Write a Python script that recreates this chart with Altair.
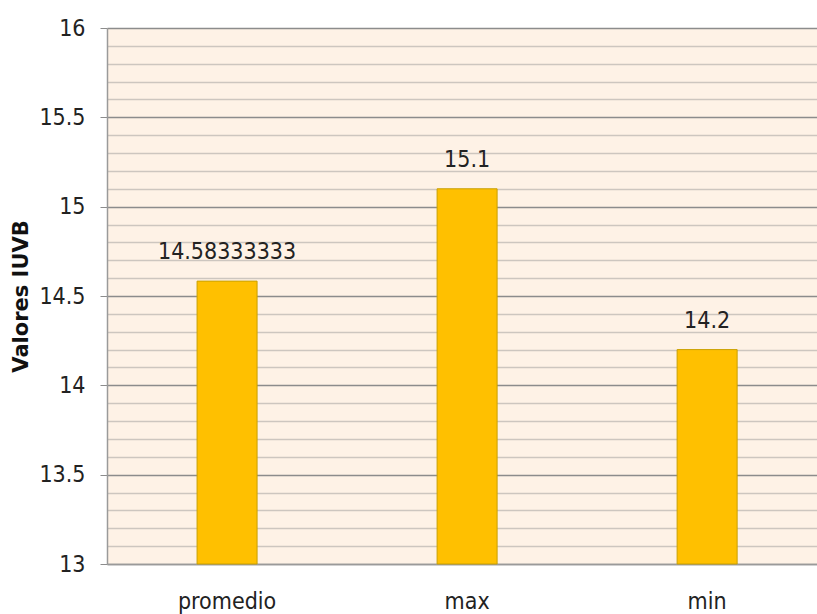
import altair as alt
import pandas as pd

# Índice UVB: promedio, máximo y mínimo
categorias = ["promedio", "max", "min"]
valores = [14.58333333, 15.1, 14.2]
etiquetas = ["14.58333333", "15.1", "14.2"]

# Ticks del eje Y: cada 0.1 (líneas menores), rótulos cada 0.5
ticks_y = [round(13 + i * 0.1, 1) for i in range(31)]

df = pd.DataFrame({"categoria": categorias, "valor": valores, "etiqueta": etiquetas})

es_mayor = "abs(datum.value * 2 - round(datum.value * 2)) < 0.001"
FUENTE = "'DejaVu Sans Condensed', 'Liberation Sans', sans-serif"
TAM = 23

x_enc = alt.X(
    "categoria:N",
    sort=categorias,
    scale=alt.Scale(paddingInner=0.75, paddingOuter=0.354, align=0.53),
    axis=alt.Axis(
        title=None,
        labelAngle=0,
        labelFont=FUENTE,
        labelFontSize=TAM,
        labelColor="#222222",
        labelPadding=26,
        ticks=False,
        domainColor="#9a9a9a",
        domainWidth=1.5,
        grid=False,
    ),
)

y_enc = alt.Y(
    "valor:Q",
    scale=alt.Scale(domain=[13, 16], nice=False, zero=False),
    axis=alt.Axis(
        title="Valores IUVB",
        titleFont="DejaVu Sans",
        titleFontWeight="bold",
        titleFontSize=21,
        titleColor="#111111",
        titlePadding=7,
        values=ticks_y,
        format="~g",
        labelExpr=f"{es_mayor} ? datum.label : ''",
        labelFont=FUENTE,
        labelFontSize=TAM,
        labelColor="#222222",
        labelPadding=15,
        labelOverlap=False,
        tickSize=7,
        tickColor={"condition": {"test": es_mayor, "value": "#8c8c8c"}, "value": "transparent"},
        domainColor="#9a9a9a",
        domainWidth=1.5,
        grid=True,
        gridColor={"condition": {"test": es_mayor, "value": "#8c8c8c"}, "value": "#cdc6bf"},
        gridWidth=1.5,
    ),
)

barras = alt.Chart(df).mark_bar(
    color="#FFC000", stroke="#C9A000", strokeWidth=1
).encode(x=x_enc, y=y_enc, y2=alt.datum(13))

textos = alt.Chart(df).mark_text(
    font=FUENTE, fontSize=TAM, color="#222222", baseline="alphabetic", dy=-22
).encode(x=x_enc, y=y_enc, text="etiqueta:N")

chart = (
    alt.layer(barras, textos)
    .properties(
        width=710,
        height=536,
        autosize=alt.AutoSizeParams(type="none"),
        padding={"left": 107, "top": 28, "right": 0, "bottom": 50},
        background="white",
    )
    .configure_view(fill="#FEF2E6", stroke=None)
)

chart.save("out.html", embed_options={"renderer": "svg", "actions": False})
